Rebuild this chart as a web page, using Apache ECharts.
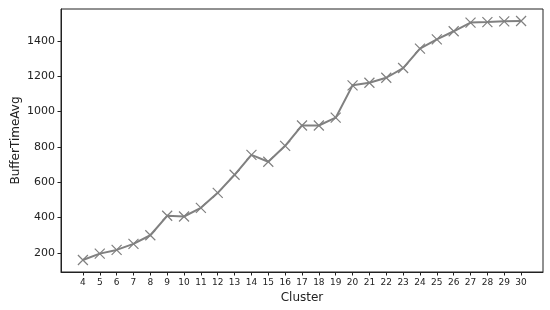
<!DOCTYPE html>
<html>
<head>
<meta charset="utf-8">
<script src="https://cdn.jsdelivr.net/npm/echarts@6/dist/echarts.min.js"></script>
<style>
html,body{margin:0;padding:0;background:#fff;}
#c{width:550px;height:310px;}
</style>
</head>
<body>
<div id="c"></div>
<script>
var clusters = [4,5,6,7,8,9,10,11,12,13,14,15,16,17,18,19,20,21,22,23,24,25,26,27,28,29,30];
var bufferTimeAvg = [160,196,217,251,300,410,406,455,540,642,755,716,806,921,921,965,1148,1163,1191,1246,1356,1408,1454,1503,1506,1510,1512];
var yTicks = [200,400,600,800,1000,1200,1400];
var xTicks = clusters.slice();

var data = clusters.map(function(c,i){ return [c, bufferTimeAvg[i]]; });
var font = 'DejaVu Sans';
var chart = echarts.init(document.getElementById('c'), null, {renderer:'canvas'});
chart.setOption({
  animation: false,
  backgroundColor: '#fff',
  grid: {left: 61, top: 9, width: 482, height: 263, show: true, borderColor: '#222', borderWidth: 1, containLabel: false, outerBoundsMode: 'none'},
  xAxis: {
    type: 'value', min: 2.7, max: 31.3,
    name: 'Cluster', nameLocation: 'middle', nameGap: 20, nameMoveOverlap: false,
    nameTextStyle: {fontFamily: font, fontSize: 12, color: '#222'},
    axisLine: {show: true, lineStyle: {color: '#222', width: 1}},
    axisTick: {show: true, inside: false, length: 3.5, lineStyle: {color: '#222'}, customValues: xTicks},
    axisLabel: {fontFamily: font, fontSize: 9, color: '#222', margin: 6, customValues: xTicks, formatter: function(v){ return String(v); }},
    splitLine: {show: false}
  },
  yAxis: {
    type: 'value', min: 92, max: 1580,
    name: 'BufferTimeAvg', nameLocation: 'middle', nameGap: 39, nameMoveOverlap: false,
    nameTextStyle: {fontFamily: font, fontSize: 12, color: '#222'},
    axisLine: {show: true, lineStyle: {color: '#222', width: 1}},
    axisTick: {show: true, inside: false, length: 3.5, lineStyle: {color: '#222'}, customValues: yTicks},
    axisLabel: {fontFamily: font, fontSize: 11, color: '#222', margin: 6, customValues: yTicks, formatter: function(v){ return String(v); }},
    splitLine: {show: false}
  },
  series: [{
    type: 'line',
    data: data,
    symbol: 'path://M0,0L10,10M10,0L0,10',
    symbolSize: 10,
    showAllSymbol: true,
    lineStyle: {color: '#808080', width: 2},
    itemStyle: {color: 'rgba(0,0,0,0)', borderColor: '#808080', borderWidth: 1.2},
    emphasis: {disabled: true}
  }]
});
</script>
</body>
</html>
